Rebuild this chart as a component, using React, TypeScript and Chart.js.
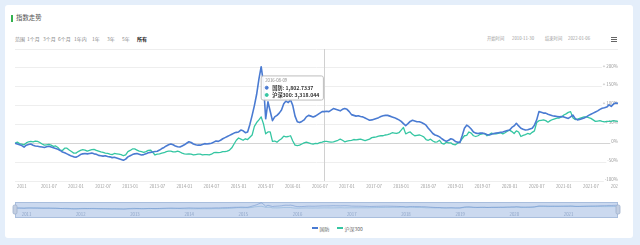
import React, { useEffect, useRef } from 'react';
import { Chart, registerables, Tooltip } from 'chart.js';

Chart.register(...registerables);

const FONT = "'Noto Sans CJK SC', 'Noto Sans', sans-serif";

const SERIES_NAMES = ['国防', '沪深300'];
const SERIES_COLORS = ['#4a7bd2', '#35c6a2'];

// ---- categories (semi-monthly dates) ----
const START_DATE = '2010-11-30';
const END_DATE = '2022-01-06';
const DEC_2010_DATES = ['2010-12-09', '2010-12-24'];
const YEARS = [2011, 2012, 2013, 2014, 2015, 2016, 2017, 2018, 2019, 2020, 2021];
const MONTHS = ['01', '02', '03', '04', '05', '06', '07', '08', '09', '10', '11', '12'];
const DAYS = ['09', '24'];
const CATEGORIES: string[] = [START_DATE, ...DEC_2010_DATES];
YEARS.forEach((y) => MONTHS.forEach((m) => DAYS.forEach((d) => CATEGORIES.push(`${y}-${m}-${d}`))));
CATEGORIES.push(END_DATE);

// ---- 国防 (% change) ----
const defense2010 = [0, -2, -4];
const defense2011 = [-6, -10, -5, -3, -2, -5, -7, -8, -9, -10, -11, -9, -8, -10, -12, -14, -16, -19, -23, -25, -28, -31, -34, -36];
const defense2012 = [-37, -34, -30, -28, -27, -28, -27, -26, -28, -29, -32, -33, -34, -33, -35, -36, -38, -37, -39, -41, -43, -45, -42, -36];
const defense2013 = [-33, -30, -28, -27, -29, -31, -30, -28, -25, -24, -23, -22, -21, -18, -14, -11, -7, -4, -2, -4, -7, -9, -10, -7];
const defense2014 = [-4, 0, 4, 2, -2, -4, -5, -5, -3, -1, -2, -1, 0, 3, 6, 5, 8, 12, 15, 18, 21, 24, 27, 29];
const defense2015 = [30, 35, 33, 28, 30, 50, 74, 100, 130, 170, 203, 160, 65, 110, 85, 60, 70, 74, 80, 88, 105, 112, 108, 115];
const defense2016 = [100, 72, 57, 55, 58, 62, 70, 74, 72, 70, 72, 76, 80, 84, 84, 85, 84, 88, 92, 90, 88, 86, 90, 92];
const defense2017 = [90, 84, 76, 74, 72, 73, 71, 70, 67, 64, 61, 62, 64, 66, 68, 71, 73, 74, 74, 72, 70, 68, 65, 62];
const defense2018 = [58, 52, 47, 52, 58, 61, 59, 57, 57, 55, 52, 48, 40, 33, 26, 22, 20, 17, 12, 8, 5, 8, 12, 10];
const defense2019 = [5, 3, 2, 20, 40, 48, 44, 38, 30, 27, 26, 27, 27, 25, 23, 22, 24, 26, 27, 28, 29, 30, 32, 34];
const defense2020 = [35, 42, 46, 53, 46, 40, 37, 35, 36, 38, 40, 48, 62, 84, 82, 80, 80, 77, 75, 73, 72, 71, 70, 71];
const defense2021 = [70, 68, 66, 70, 75, 66, 62, 63, 65, 67, 70, 74, 77, 80, 83, 86, 90, 93, 94, 96, 102, 98, 104, 107];
const defense2022 = [106];

// ---- 沪深300 (% change) ----
const hs2010 = [0, 3, -1];
const hs2011 = [-2, -4, 1, 4, 5, 4, 6, 5, 2, -2, -5, -4, -3, -5, -8, -7, -11, -18, -19, -13, -13, -18, -22, -26];
const hs2012 = [-26, -22, -19, -17, -18, -21, -19, -17, -16, -19, -21, -23, -24, -26, -27, -29, -30, -27, -28, -29, -30, -33, -31, -22];
const hs2013 = [-19, -15, -15, -18, -21, -22, -24, -22, -19, -18, -24, -31, -29, -28, -26, -25, -22, -21, -21, -23, -23, -21, -23, -26];
const hs2014 = [-28, -29, -28, -29, -31, -30, -29, -29, -31, -30, -30, -31, -29, -25, -24, -25, -24, -22, -22, -21, -18, -12, -2, 8];
const hs2015 = [14, 11, 8, 12, 10, 16, 22, 45, 55, 62, 70, 52, 25, 30, 30, 5, 6, 3, 8, 12, 19, 17, 18, 20];
const hs2016 = [6, -5, -6, -5, -2, 1, 3, 1, -1, -2, 0, -1, 2, 3, 5, 5, 4, 3, 4, 6, 8, 11, 8, 4];
const hs2017 = [6, 7, 8, 10, 9, 10, 11, 9, 7, 9, 11, 15, 16, 17, 19, 20, 20, 22, 23, 25, 28, 27, 26, 28];
const hs2018 = [35, 42, 25, 28, 30, 24, 20, 21, 22, 20, 17, 10, 8, 11, 6, 3, 4, 8, 0, -2, 3, 1, 1, -3];
const hs2019 = [-4, 0, 3, 12, 20, 21, 30, 27, 20, 18, 20, 24, 25, 26, 20, 23, 27, 25, 25, 26, 28, 25, 28, 32];
const hs2020 = [35, 31, 26, 33, 30, 18, 21, 23, 26, 24, 29, 33, 55, 60, 61, 62, 60, 56, 60, 63, 65, 67, 67, 70];
const hs2021 = [75, 78, 82, 84, 68, 63, 64, 66, 68, 70, 70, 68, 66, 62, 58, 59, 60, 58, 57, 58, 58, 58, 60, 59];
const hs2022 = [58];

const DEFENSE = [
  ...defense2010, ...defense2011, ...defense2012, ...defense2013, ...defense2014, ...defense2015,
  ...defense2016, ...defense2017, ...defense2018, ...defense2019, ...defense2020, ...defense2021, ...defense2022,
];
const HS300 = [
  ...hs2010, ...hs2011, ...hs2012, ...hs2013, ...hs2014, ...hs2015,
  ...hs2016, ...hs2017, ...hs2018, ...hs2019, ...hs2020, ...hs2021, ...hs2022,
];

// ---- axis tick labels ----
const X_TICK_DATES = [
  '2011-01-09', '2011-07-09', '2012-01-09', '2012-07-09', '2013-01-09', '2013-07-09', '2014-01-09', '2014-07-09',
  '2015-01-09', '2015-07-09', '2016-01-09', '2016-07-09', '2017-01-09', '2017-07-09', '2018-01-09', '2018-07-09',
  '2019-01-09', '2019-07-09', '2020-01-09', '2020-07-09', '2021-01-09', '2021-07-09', '2022-01-06',
];
const X_TICK_TEXT = [
  '2011', '2011-07', '2012-01', '2012-07', '2013-01', '2013-07', '2014-01', '2014-07',
  '2015-01', '2015-07', '2016-01', '2016-07', '2017-01', '2017-07', '2018-01', '2018-07',
  '2019-01', '2019-07', '2020-01', '2020-07', '2021-01', '2021-07', '202',
];
const Y_TICKS = [-100, -50, 0, 50, 100, 150, 200, 250];
const Y_TICK_TEXT = ['-100%', '-50%', '0%', '+ 50%', '+ 100%', '+ 150%', '+ 200%', ''];

const NAV_YEAR_DATES = [
  '2011-01-09', '2012-01-09', '2013-01-09', '2014-01-09', '2015-01-09', '2016-01-09',
  '2017-01-09', '2018-01-09', '2019-01-09', '2020-01-09', '2021-01-09',
];
const NAV_YEAR_TEXT = ['2011', '2012', '2013', '2014', '2015', '2016', '2017', '2018', '2019', '2020', '2021'];

// ---- tooltip ----
const TOOLTIP_DATE = '2016-08-09';
const TOOLTIP_VALUES = ['1,802.7337', '3,318.044'];

// ---- header ----
const RANGE_BUTTONS = ['范围', '1个月', '3个月', '6个月', '1年内', '1年', '3年', '5年', '所有'];
const RANGE_X = [15, 27, 43, 58, 74, 92, 107, 122, 137];
const DATE_RANGE = [
  { text: '开始时间', x: 487 },
  { text: '2010-11-30', x: 512 },
  { text: '结束时间', x: 545 },
  { text: '2022-01-06', x: 568 },
];

(Tooltip.positioners as any).pinnedLeft = function (items: any[]) {
  if (!items.length) return false;
  return { x: items[0].element.x, y: 88 };
};

const crosshairPlugin = {
  id: 'crosshair',
  beforeDatasetsDraw(chart: any) {
    const act = chart.tooltip ? chart.tooltip.getActiveElements() : [];
    if (!act || !act.length) return;
    const x = Math.round(act[0].element.x) + 0.5;
    const { top, bottom } = chart.chartArea;
    const ctx = chart.ctx;
    ctx.save();
    ctx.strokeStyle = '#d0d0d0';
    ctx.lineWidth = 1;
    ctx.beginPath();
    ctx.moveTo(x, top);
    ctx.lineTo(x, bottom);
    ctx.stroke();
    ctx.restore();
  },
};

const navPlugin = {
  id: 'navFrame',
  beforeDatasetsDraw(chart: any) {
    const { left, right, top, bottom } = chart.chartArea;
    const ctx = chart.ctx;
    ctx.save();
    ctx.fillStyle = '#cbd9ef';
    ctx.fillRect(left, top, right - left, bottom - top);
    ctx.strokeStyle = '#a9bedd';
    ctx.lineWidth = 1;
    ctx.strokeRect(left + 0.5, top + 0.5, right - left - 1, bottom - top - 1);
    ctx.restore();
  },
  afterDatasetsDraw(chart: any) {
    const { left, right, top, bottom } = chart.chartArea;
    const ctx = chart.ctx;
    const xs = chart.scales.x;
    ctx.save();
    ctx.font = `4.3px ${FONT}`;
    ctx.fillStyle = '#8da3c6';
    ctx.textAlign = 'left';
    ctx.textBaseline = 'middle';
    NAV_YEAR_DATES.forEach((d, i) => {
      const idx = CATEGORIES.indexOf(d);
      if (idx < 0) return;
      ctx.fillText(NAV_YEAR_TEXT[i], xs.getPixelForValue(idx), bottom - 4);
    });
    // handles
    const hTop = top + 3;
    const hH = bottom - top - 7;
    [left, right].forEach((hx) => {
      ctx.beginPath();
      const r = 1.5;
      const x0 = hx - 2;
      const w = 4;
      ctx.moveTo(x0 + r, hTop);
      ctx.arcTo(x0 + w, hTop, x0 + w, hTop + hH, r);
      ctx.arcTo(x0 + w, hTop + hH, x0, hTop + hH, r);
      ctx.arcTo(x0, hTop + hH, x0, hTop, r);
      ctx.arcTo(x0, hTop, x0 + w, hTop, r);
      ctx.closePath();
      ctx.fillStyle = '#c2cee2';
      ctx.fill();
      ctx.strokeStyle = '#9eb0cc';
      ctx.lineWidth = 0.8;
      ctx.stroke();
    });
    ctx.restore();
  },
};

export default function App() {
  const mainRef = useRef<HTMLCanvasElement>(null);
  const navRef = useRef<HTMLCanvasElement>(null);

  useEffect(() => {
    if (!mainRef.current || !navRef.current) return;
    const tipIndex = CATEGORIES.indexOf(TOOLTIP_DATE);

    const main = new Chart(mainRef.current, {
      type: 'line',
      data: {
        labels: CATEGORIES,
        datasets: [
          {
            label: SERIES_NAMES[0],
            data: DEFENSE,
            borderColor: SERIES_COLORS[0],
            backgroundColor: SERIES_COLORS[0],
            borderWidth: 1.6,
            pointRadius: 0,
            pointHoverRadius: 0,
            tension: 0,
            borderJoinStyle: 'round',
          },
          {
            label: SERIES_NAMES[1],
            data: HS300,
            borderColor: SERIES_COLORS[1],
            backgroundColor: SERIES_COLORS[1],
            borderWidth: 1.3,
            pointRadius: 0,
            pointHoverRadius: 0,
            tension: 0,
            borderJoinStyle: 'round',
          },
        ],
      },
      options: {
        responsive: false,
        animation: false,
        devicePixelRatio: 1,
        events: [],
        layout: { padding: { left: 15, right: 22, top: 49, bottom: 0 } },
        plugins: {
          legend: { display: false },
          tooltip: {
            enabled: true,
            position: 'pinnedLeft' as any,
            xAlign: 'right',
            yAlign: 'center',
            caretSize: 0,
            caretPadding: 1,
            backgroundColor: 'rgba(255,255,255,0.92)',
            borderColor: '#bdbdbd',
            borderWidth: 1,
            cornerRadius: 2,
            titleColor: '#888',
            bodyColor: '#333',
            titleFont: { family: FONT, size: 4.3, weight: 'normal' },
            bodyFont: { family: FONT, size: 5.2, weight: 'bold' },
            padding: { top: 2, bottom: 2, left: 4, right: 4 },
            titleMarginBottom: 1.5,
            bodySpacing: 1,
            usePointStyle: true,
            boxWidth: 3,
            boxHeight: 3,
            boxPadding: 2,
            callbacks: {
              title: (items: any[]) => (items.length ? CATEGORIES[items[0].dataIndex] : ''),
              label: (ctx: any) => `${ctx.dataset.label}: ${TOOLTIP_VALUES[ctx.datasetIndex]}`,
              labelPointStyle: () => ({ pointStyle: 'circle', rotation: 0 }),
              labelColor: (ctx: any) => ({
                borderColor: SERIES_COLORS[ctx.datasetIndex],
                backgroundColor: SERIES_COLORS[ctx.datasetIndex],
                borderWidth: 0,
              }),
            },
          },
        },
        scales: {
          x: {
            type: 'category',
            grid: { display: false, drawTicks: false },
            border: { display: false },
            afterFit: (s: any) => {
              s.height = 14;
            },
            ticks: {
              autoSkip: false,
              maxRotation: 0,
              minRotation: 0,
              padding: 3,
              align: 'inner',
              color: '#9a9a9a',
              font: { family: FONT, size: 4.3 },
              callback: (_v: any, i: number) => {
                const k = X_TICK_DATES.indexOf(CATEGORIES[i]);
                return k >= 0 ? X_TICK_TEXT[k] : '';
              },
            },
          },
          y: {
            position: 'right',
            min: -100,
            max: 250,
            afterBuildTicks: (s: any) => {
              s.ticks = Y_TICKS.map((v) => ({ value: v }));
            },
            afterFit: (s: any) => {
              s.width = 0;
            },
            border: { display: false },
            grid: {
              drawTicks: false,
              color: (c: any) => (c.tick && c.tick.value === 0 ? '#d4d4d4' : '#eeeeee'),
              lineWidth: 1,
            },
            ticks: {
              mirror: true,
              padding: 0,
              labelOffset: -2,
              color: '#9a9a9a',
              font: { family: FONT, size: 4.5 },
              showLabelBackdrop: true,
              backdropColor: (c: any) => (c.tick && c.tick.value === 250 ? 'rgba(0,0,0,0)' : '#ffffff'),
              backdropPadding: 1,
              callback: (v: any) => {
                const k = Y_TICKS.indexOf(Number(v));
                return k >= 0 ? Y_TICK_TEXT[k] : '';
              },
            },
          },
        },
      } as any,
      plugins: [crosshairPlugin],
    });

    main.tooltip!.setActiveElements(
      [
        { datasetIndex: 0, index: tipIndex },
        { datasetIndex: 1, index: tipIndex },
      ],
      { x: 0, y: 0 }
    );
    main.update();

    const nav = new Chart(navRef.current, {
      type: 'line',
      data: {
        labels: CATEGORIES,
        datasets: [
          {
            label: SERIES_NAMES[0],
            data: DEFENSE,
            borderColor: 'rgba(95,135,200,0.6)',
            borderWidth: 0.8,
            pointRadius: 0,
            tension: 0,
          },
          {
            label: SERIES_NAMES[1],
            data: HS300,
            borderColor: 'rgba(120,170,215,0.6)',
            borderWidth: 0.8,
            pointRadius: 0,
            tension: 0,
          },
        ],
      },
      options: {
        responsive: false,
        animation: false,
        devicePixelRatio: 1,
        events: [],
        layout: { padding: { left: 15, right: 22, top: 7, bottom: 7 } },
        plugins: { legend: { display: false }, tooltip: { enabled: false } },
        scales: {
          x: { type: 'category', display: false },
          y: { display: false, min: -400, max: 240 },
        },
      } as any,
      plugins: [navPlugin],
    });

    return () => {
      main.destroy();
      nav.destroy();
    };
  }, []);

  const txt = (extra: React.CSSProperties): React.CSSProperties => ({
    position: 'absolute',
    fontFamily: FONT,
    lineHeight: 1,
    whiteSpace: 'nowrap',
    ...extra,
  });

  return (
    <div
      style={{
        position: 'fixed',
        left: 0,
        top: 0,
        width: 640,
        height: 245,
        overflow: 'hidden',
        background: '#e4eefa',
      }}
    >
      <div
        style={{
          position: 'absolute',
          left: 5,
          top: 5,
          width: 628,
          height: 233,
          background: '#ffffff',
          borderRadius: 3,
        }}
      />
      <div style={{ position: 'absolute', left: 11, top: 15, width: 2, height: 7, background: '#33b24f' }} />
      <div style={txt({ left: 16, top: 15.3, fontSize: 6.4, color: '#555' })}>指数走势</div>
      {RANGE_BUTTONS.map((b, i) => (
        <div
          key={b}
          style={txt({
            left: RANGE_X[i],
            top: 35.5,
            fontSize: 5,
            color: i === RANGE_BUTTONS.length - 1 ? '#222' : '#8a8a8a',
            fontWeight: i === RANGE_BUTTONS.length - 1 ? 700 : 400,
          })}
        >
          {b}
        </div>
      ))}
      {DATE_RANGE.map((d) => (
        <div key={d.text} style={txt({ left: d.x, top: 35.8, fontSize: 4.3, color: '#9a9a9a' })}>
          {d.text}
        </div>
      ))}
      {[36.5, 38.5, 40.5].map((y) => (
        <div key={y} style={{ position: 'absolute', left: 611, top: y, width: 6, height: 1, background: '#666' }} />
      ))}
      <canvas
        ref={mainRef}
        width={640}
        height={195}
        style={{ position: 'absolute', left: 0, top: 0, width: 640, height: 195, display: 'block' }}
      />
      <canvas
        ref={navRef}
        width={640}
        height={30}
        style={{ position: 'absolute', left: 0, top: 195, width: 640, height: 30, display: 'block' }}
      />
      {SERIES_NAMES.map((name, i) => (
        <React.Fragment key={name}>
          <div
            style={{
              position: 'absolute',
              left: i === 0 ? 312 : 337,
              top: 227.3,
              width: 6,
              height: 1.4,
              background: SERIES_COLORS[i],
            }}
          />
          <div style={txt({ left: i === 0 ? 319.5 : 344.5, top: 225.5, fontSize: 5, color: '#666' })}>{name}</div>
        </React.Fragment>
      ))}
    </div>
  );
}
